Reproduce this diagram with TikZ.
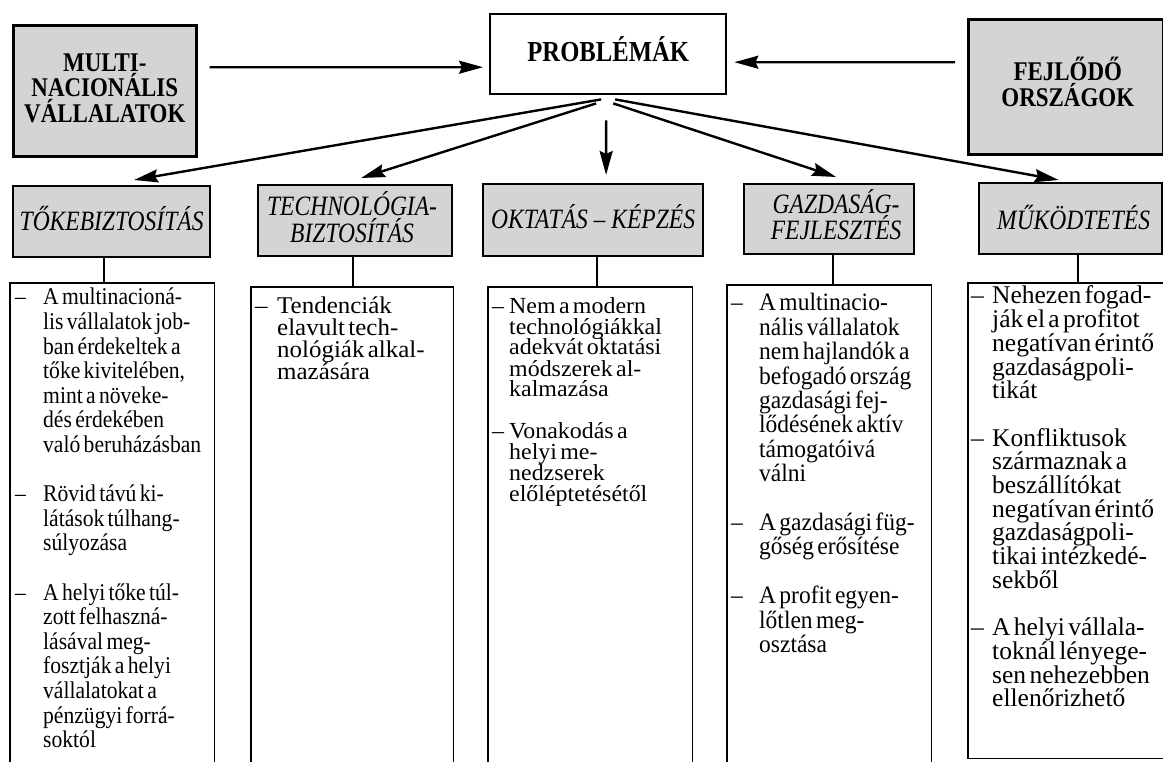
\documentclass[tikz,border=0pt]{standalone}
\usepackage{fontspec}
\setmainfont{Liberation Serif}
\newfontfamily\headfont[FakeStretch=0.85]{Liberation Serif}
\newfontfamily\catfont[FakeStretch=0.84]{Liberation Serif}
\newfontfamily\bodyfont{Liberation Serif}
\newfontfamily\bodynarrow[FakeStretch=0.9]{Liberation Serif}
\newfontfamily\bodysemi[FakeStretch=0.94]{Liberation Serif}
\newfontfamily\bodywide[FakeStretch=1.04]{Liberation Serif}
\usetikzlibrary{arrows.meta,calc}

% font set-ups for the headings
\newcommand\headsize{\headfont\bfseries\fontsize{27}{25.5}\selectfont\lineskiplimit=-50pt\relax}
\newcommand\probsize{\headfont\bfseries\fontsize{29}{29}\selectfont}
\newcommand\catsize{\catfont\itshape\fontsize{28}{26.5}\selectfont\lineskiplimit=-50pt\relax}

% one dash-led item with a hanging indent; lines are broken by hand
\newlength\itemind
\newcommand\itm[1]{\hangindent=\itemind\relax\hangafter=1\relax\noindent\makebox[\itemind][l]{–}#1\par}
\newcommand\itemgap{\vskip\baselineskip\relax}
\newcommand\bodysize[3]{#1\fontsize{#2}{#3}\selectfont\lineskiplimit=-50pt\relax\parskip=0pt\relax\parindent=0pt\relax}

\begin{document}
\begin{tikzpicture}[x=1pt,y=-1pt,
  hdbox/.style={draw, line width=2.6pt, fill=black!17, inner sep=0pt, anchor=north west},
  probbox/.style={draw, line width=2.4pt, fill=white, inner sep=0pt, anchor=north west},
  catbox/.style={draw, line width=2.2pt, fill=black!17, inner sep=0pt, anchor=north west},
  listbox/.style={inner sep=0pt, anchor=north west},
  listedge/.style={line width=1.4pt},
  headtxt/.style={inner sep=0pt, align=center, font=\headsize},
  cattxt/.style={inner sep=0pt, align=center, font=\catsize},
  listtxt/.style={inner sep=0pt, anchor=base west, text width=240pt},
  arr/.style={line width=2.4pt, -{Stealth[length=24pt,width=13pt,inset=3pt]}},
  conn/.style={line width=1.8pt}]

\useasboundingbox (0,0) rectangle (1163,762);

% --- top row: the two actors and the problem box
\node[hdbox, minimum width=183pt, minimum height=131pt] (multi) at (12,24) {};
\node[headtxt] (multiT) at ($(multi.center)+(0,-2.6)$) {MULTI-\\NACIONÁLIS\\VÁLLALATOK};

\node[probbox, minimum width=236pt, minimum height=80pt] (prob) at (489,13) {};
\node[inner sep=0pt, anchor=base, font=\probsize] (probT) at ($(prob.center)+(0,7)$) {PROBLÉMÁK};

\node[hdbox, minimum width=195pt, minimum height=135pt] (fej) at (967,18) {};
\node[headtxt] (fejT) at ($(fej.center)+(2,-5)$) {FEJLŐDŐ\\ORSZÁGOK};

% --- second row: fields
\node[catbox, minimum width=197pt, minimum height=71pt] (tok) at (12,185) {};
\node[cattxt, anchor=base] (tokT) at ($(tok.center)+(0,9)$) {TŐKEBIZTOSÍTÁS};

\node[catbox, minimum width=194pt, minimum height=71pt] (tech) at (257,184) {};
\node[cattxt] (techT) at ($(tech.center)+(-3,-3.5)$) {TECHNOLÓGIA-\\BIZTOSÍTÁS};

\node[catbox, minimum width=220pt, minimum height=72pt] (okt) at (482,183) {};
\node[cattxt, anchor=base] (oktT) at ($(okt.center)+(0,8.5)$) {OKTATÁS – KÉPZÉS};

\node[catbox, minimum width=170pt, minimum height=70pt] (gazd) at (743,183) {};
\node[cattxt] (gazdT) at ($(gazd.center)+(7,-4.5)$) {GAZDASÁG-\\FEJLESZTÉS};

\node[catbox, minimum width=183pt, minimum height=71pt] (muk) at (978,182) {};
\node[cattxt, anchor=base] (mukT) at ($(muk.center)+(3,11)$) {MŰKÖDTETÉS};

% --- arrows between the top boxes
\draw[arr] ($(multi.east)+(12,-23.5)$) -- ($(prob.west)+(-6,13)$);
\draw[arr] ($(fej.west)+(-12,-24.5)$) -- ($(prob.east)+(7,8)$);

% --- fan of arrows from the problem box
\draw[arr] ($(prob.south)+(-7,4)$) -- ($(tok.north)+(22.5,-5)$);
\draw[arr] ($(prob.south)+(-12,8)$) -- ($(tech.north)+(6,-6)$);
\draw[arr] ($(prob.south)+(-2,25)$) -- ($(okt.north)+(13,-8)$);
\draw[arr] ($(prob.south)+(5,8)$) -- ($(gazd.north)+(7,-6)$);
\draw[arr] ($(prob.south)+(7,4)$) -- ($(muk.north)+(-12,-2)$);

% --- list boxes (open at the foot, except the last one)
\node[listbox, minimum width=204pt, minimum height=490pt] (tokc) at (10,283) {};
\node[listbox, minimum width=202pt, minimum height=486pt] (techc) at (251,287) {};
\node[listbox, minimum width=204pt, minimum height=486pt] (oktc) at (488,287) {};
\node[listbox, minimum width=204pt, minimum height=488pt] (gazdc) at (727,285) {};
\node[listbox, minimum width=200pt, minimum height=475pt] (mukc) at (968,283) {};
\foreach \b in {tokc,techc,oktc,gazdc}
  \draw[listedge] (\b.south west) -- (\b.north west) -- (\b.north east) -- (\b.south east);
\draw[listedge] (mukc.south west) rectangle (mukc.north east);

% --- short links from each field to its list
\draw[conn] ($(tok.south)+(-7.5,0)$) coordinate (tokj) -- (tokj |- tokc.north);
\draw[conn] ($(tech.south)+(-2,0)$) coordinate (techj) -- (techj |- techc.north);
\draw[conn] ($(okt.south)+(4,0)$) coordinate (oktj) -- (oktj |- oktc.north);
\draw[conn] ($(gazd.south)+(4,0)$) coordinate (gazdj) -- (gazdj |- gazdc.north);
\draw[conn] ($(muk.south)+(7,0)$) coordinate (mukj) -- (mukj |- mukc.north);

% --- list texts
\node[listtxt] (tokL) at (15,305) {\bodysize{\bodynarrow}{24}{24.6}\setlength\itemind{28pt}%
\itm{A multinacioná-\newline lis vállalatok job-\newline ban érdekeltek a\newline tőke kivitelében,\newline mint a növeke-\newline dés érdekében\newline való beruházásban}
\itemgap
\itm{Rövid távú ki-\newline látások túlhang-\newline súlyozása}
\itemgap
\itm{A helyi tőke túl-\newline zott felhaszná-\newline lásával meg-\newline fosztják a helyi\newline vállalatokat a\newline pénzügyi forrá-\newline soktól}};

\node[listtxt] (techL) at (255,314) {\bodysize{\bodywide}{24}{22}\setlength\itemind{22pt}%
\itm{Tendenciák\newline elavult tech-\newline nológiák alkal-\newline mazására}};

\node[listtxt] (oktL) at (492,313) {\bodysize{\bodywide}{23}{21}\setlength\itemind{17pt}%
\itm{Nem a modern\newline technológiákkal\newline adekvát oktatási\newline módszerek al-\newline kalmazása}
\itemgap
\itm{Vonakodás a\newline helyi me-\newline nedzserek\newline előléptetésétől}};

\node[listtxt] (gazdL) at (731,311) {\bodysize{\bodysemi}{25}{24.4}\setlength\itemind{28pt}%
\itm{A multinacio-\newline nális vállalatok\newline nem hajlandók a\newline befogadó ország\newline gazdasági fej-\newline lődésének aktív\newline támogatóivá\newline válni}
\itemgap
\itm{A gazdasági füg-\newline gőség erősítése}
\itemgap
\itm{A profit egyen-\newline lőtlen meg-\newline osztása}};

\node[listtxt] (mukL) at (971,304) {\bodysize{\bodyfont}{25.5}{23.7}\setlength\itemind{21pt}%
\itm{Nehezen fogad-\newline ják el a profitot\newline negatívan érintő\newline gazdaságpoli-\newline tikát}
\itemgap
\itm{Konfliktusok\newline származnak a\newline beszállítókat\newline negatívan érintő\newline gazdaságpoli-\newline tikai intézkedé-\newline sekből}
\itemgap
\itm{A helyi vállala-\newline toknál lényege-\newline sen nehezebben\newline ellenőrizhető}};

\end{tikzpicture}
\end{document}
